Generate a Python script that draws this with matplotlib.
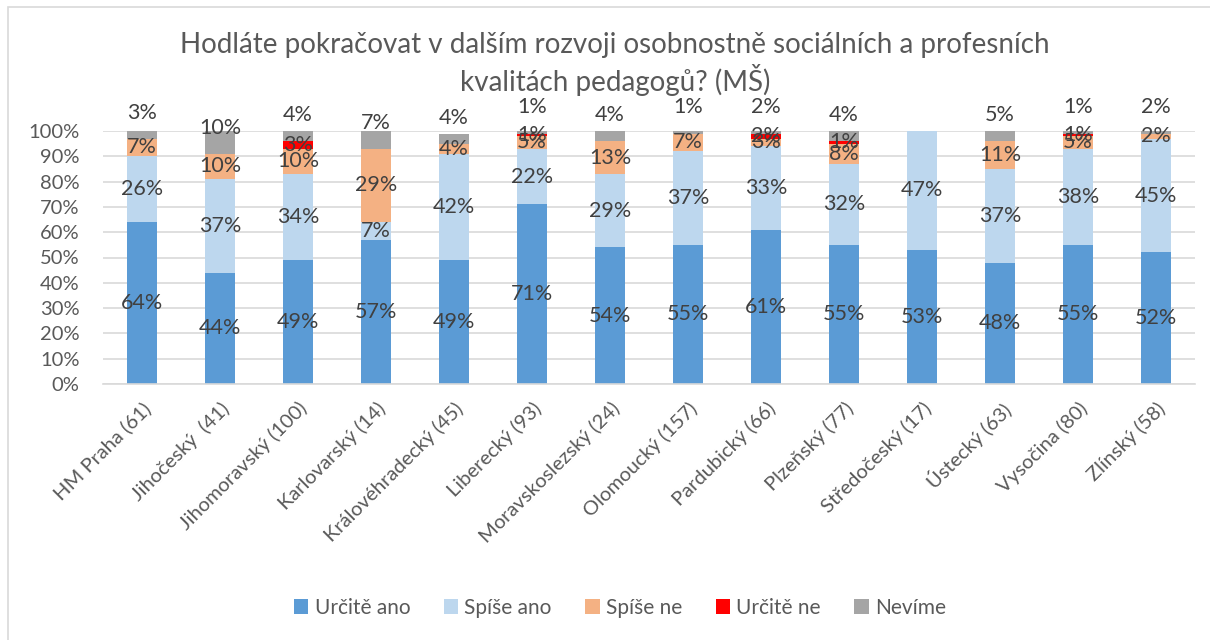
import matplotlib.pyplot as plt
import numpy as np
from matplotlib.patches import Rectangle

# kraje a počty respondentů
kraje = ['HM Praha (61)', 'Jihočeský  (41)', 'Jihomoravský (100)', 'Karlovarský (14)',
         'Královéhradecký (45)', 'Liberecký (93)', 'Moravskoslezský (24)', 'Olomoucký (157)',
         'Pardubický (66)', 'Plzeňský (77)', 'Středočeský (17)', 'Ústecký (63)',
         'Vysočina (80)', 'Zlínský (58)']

urcite_ano = [64, 44, 49, 57, 49, 71, 54, 55, 61, 55, 53, 48, 55, 52]
spise_ano = [26, 37, 34, 7, 42, 22, 29, 37, 33, 32, 47, 37, 38, 45]
spise_ne = [7, 10, 10, 29, 4, 5, 13, 7, 3, 8, 0, 11, 5, 2]
urcite_ne = [0, 0, 3, 0, 0, 1, 0, 0, 2, 1, 0, 0, 1, 0]
nevime = [3, 10, 4, 7, 4, 1, 4, 1, 2, 4, 0, 5, 1, 2]

serie = [('Určitě ano', urcite_ano, '#5B9BD5'),
         ('Spíše ano', spise_ano, '#BDD7EE'),
         ('Spíše ne', spise_ne, '#F4B183'),
         ('Určitě ne', urcite_ne, '#FF0000'),
         ('Nevíme', nevime, '#A5A5A5')]

plt.rcParams['font.family'] = ['Lato', 'DejaVu Sans']

fig = plt.figure(figsize=(12.1, 6.4), dpi=100)
ax = fig.add_axes([103 / 1210, 1 - 384 / 640, 1092 / 1210, 253 / 640])

# ramecek grafu
fig.patches.append(Rectangle((8 / 1210, -0.01), 1.0, 1 - 7 / 640 + 0.01,
                             transform=fig.transFigure, fill=False,
                             edgecolor='#D9D9D9', linewidth=1.2))

x = np.arange(len(kraje))
dole = np.zeros(len(kraje))
txt = '#404040'
for nazev, hodnoty, barva in serie:
    h = np.array(hodnoty, dtype=float)
    ax.bar(x, h, 0.39, bottom=dole, color=barva, label=nazev, zorder=2)
    for i, v in enumerate(h):
        if v == 0:
            continue
        if nazev == 'Nevíme':
            y = dole[i] + 10.3
        else:
            y = dole[i] + v / 2
        ax.text(x[i], y, f'{int(v)}%', ha='center', va='center',
                fontsize=15.5, color=txt, zorder=3, clip_on=False)
    dole += h

ax.set_xlim(-0.5, len(kraje) - 0.5)
ax.set_ylim(0, 100)
ax.set_yticks(np.arange(0, 101, 10))
ax.set_yticklabels([f'{t}%' for t in range(0, 101, 10)], fontsize=14.5, color='#595959')
ax.set_xticks(x)
ax.set_xticklabels(kraje, rotation=45, ha='right', rotation_mode='anchor',
                   fontsize=14.5, color='#595959')
ax.tick_params(axis='both', length=0)
ax.tick_params(axis='x', pad=11)
ax.tick_params(axis='y', pad=17)
ax.grid(axis='y', color='#D9D9D9', linewidth=1.2, zorder=0)
ax.set_axisbelow(True)
for s in ['top', 'right', 'left']:
    ax.spines[s].set_visible(False)
ax.spines['bottom'].set_color('#D9D9D9')
ax.spines['bottom'].set_linewidth(1.2)

fig.text(615 / 1210, 1 - 64 / 640,
         'Hodláte pokračovat v dalším rozvoji osobnostně sociálních a profesních\nkvalitách pedagogů? (MŠ)',
         ha='center', va='center', fontsize=20, color='#595959',
         linespacing=1.25)

fig.legend(loc='center', bbox_to_anchor=(620 / 1210, 1 - 608 / 640), ncol=5,
           frameon=False, fontsize=15, labelcolor='#595959', handlelength=0.7,
           handleheight=0.7, handletextpad=0.3, columnspacing=1.6)

fig.savefig('out.png', dpi=100)
